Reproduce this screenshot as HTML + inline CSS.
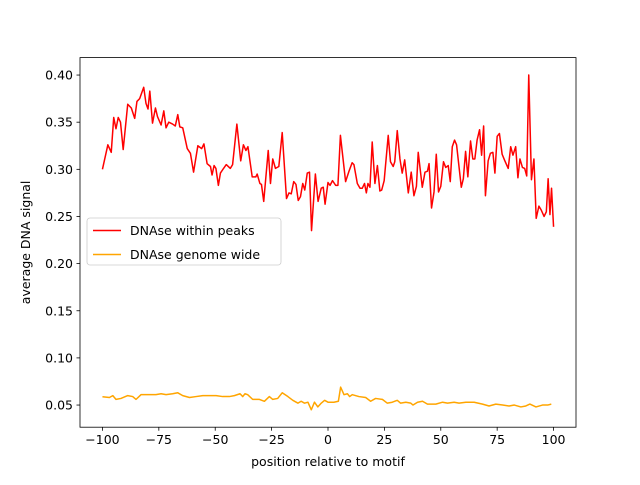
<!DOCTYPE html>
<html><head><meta charset="utf-8"><style>
body{margin:0;background:#fff}
svg text{font-family:"DejaVu Sans","Liberation Sans",sans-serif;font-size:12.5px;fill:#000}
</style></head><body>
<svg id="chart" width="640" height="480" xmlns="http://www.w3.org/2000/svg">
<rect width="640" height="480" fill="#fff"/>
<g id="plot"></g>
<rect x="80" y="57.6" width="496" height="369.6" fill="none" stroke="#000" stroke-width="0.8"/>
<g id="axes"></g>
<text x="328" y="466" text-anchor="middle">position relative to motif</text>
<text transform="translate(30,242.4) rotate(-90)" text-anchor="middle">average DNA signal</text>
<g>
<rect x="87" y="218" width="194" height="47" rx="3" fill="#fff" fill-opacity="0.8" stroke="#ccc" stroke-width="0.8"/>
<g><line x1="93" y1="230.5" x2="121" y2="230.5" stroke="#ff0000" stroke-width="1.5"/><text x="130" y="235">DNAse within peaks</text></g>
<g><line x1="93" y1="254.5" x2="121" y2="254.5" stroke="#ffa500" stroke-width="1.5"/><text x="130" y="259">DNAse genome wide</text></g>
</g>
</svg>
<script>
const redX=[-100,-97.6,-96.1,-95,-94,-93,-92,-90.8,-88.8,-87.2,-85.7,-84.7,-83.5,-81.7,-80.7,-79.8,-79,-77.8,-76.5,-75.6,-74,-72.8,-71.8,-70.6,-68.9,-67.7,-66.6,-65.7,-64.4,-62.4,-61,-59.6,-57.7,-56,-55,-53.6,-52.1,-51.4,-50.5,-49.7,-48.6,-47.7,-46.3,-45.1,-43.3,-42.3,-40.4,-38.7,-37.5,-36.4,-35.5,-33.6,-32,-31.4,-30.2,-29.5,-28.5,-26.5,-25.5,-24.5,-23.3,-21.8,-20.3,-18.4,-17.3,-16.3,-15.2,-14.2,-13.2,-12.2,-11.2,-10.3,-9.2,-8.2,-7.3,-5.6,-4.4,-3,-2.1,-1.3,0,0.9,2,3.4,4.4,5.5,7.8,9.3,10.7,11.5,13,14.2,15.2,16.2,17,17.7,18.6,19.6,20.8,21.9,23,23.8,24.9,26.7,27.7,28.9,29.6,30.7,31.9,32.9,34,35.6,36.9,38.1,39.2,40,41.8,43,44.1,44.8,45.9,47,48,49,50,51.2,52.2,53.3,54.2,55.1,56.1,57,59.1,60,61,62,63.2,64.2,65.1,66.1,67.2,68.1,69,69.8,71,72,73.1,74,75,76,77.2,78.4,79.9,81,82,83.2,84.2,85.1,86.2,87.2,88.1,89,90.2,91.3,92.3,93.5,94.5,95.8,96.8,97.6,98.4,99.1,100];
const redY=[0.300,0.326,0.318,0.355,0.343,0.355,0.350,0.321,0.369,0.365,0.354,0.372,0.375,0.387,0.370,0.364,0.383,0.349,0.365,0.356,0.347,0.362,0.344,0.350,0.348,0.346,0.358,0.345,0.344,0.322,0.317,0.297,0.325,0.322,0.327,0.306,0.303,0.294,0.304,0.301,0.283,0.296,0.301,0.305,0.301,0.305,0.348,0.309,0.326,0.320,0.324,0.292,0.292,0.295,0.285,0.284,0.266,0.320,0.285,0.311,0.301,0.303,0.339,0.269,0.275,0.274,0.287,0.284,0.267,0.271,0.285,0.278,0.296,0.297,0.235,0.295,0.266,0.280,0.281,0.263,0.286,0.283,0.288,0.283,0.283,0.336,0.287,0.298,0.307,0.305,0.285,0.280,0.280,0.285,0.275,0.285,0.281,0.329,0.285,0.304,0.277,0.278,0.288,0.336,0.308,0.303,0.308,0.341,0.311,0.296,0.310,0.275,0.297,0.272,0.282,0.318,0.281,0.297,0.298,0.306,0.259,0.276,0.316,0.276,0.282,0.308,0.302,0.304,0.287,0.324,0.331,0.326,0.281,0.290,0.319,0.292,0.330,0.311,0.311,0.331,0.342,0.315,0.346,0.272,0.309,0.317,0.318,0.296,0.335,0.338,0.316,0.309,0.301,0.324,0.315,0.324,0.291,0.311,0.302,0.301,0.293,0.400,0.289,0.311,0.248,0.261,0.257,0.250,0.255,0.290,0.252,0.280,0.239];
const orX=[-100,-96.9,-95.4,-94,-91.8,-88.8,-86.6,-85.1,-82.9,-79.2,-76.3,-74,-71.8,-68.9,-66.6,-64.4,-61.4,-58.5,-55.5,-51.8,-49.6,-46.7,-43.7,-41.5,-39,-37.8,-36.8,-35.6,-33.4,-30.4,-28.2,-26,-24.5,-22.3,-20.3,-17.8,-15.6,-13.3,-11.9,-10.4,-8.9,-7.4,-6,-4.5,-3,-1.5,0,2.6,4.6,5.6,7.1,8.6,9.6,10.8,13.7,16.7,18.9,21.1,24.1,26.3,28.5,30.7,32.2,34.5,36.7,37.7,39.7,41.9,44.1,47.8,50.8,53,55.9,58.1,61.1,64.8,68.5,71.4,74.4,77.4,80.3,82.6,85.5,87.7,89.5,92.2,95.1,97.4,99];
const orY=[0.0588,0.058,0.060,0.056,0.057,0.060,0.059,0.056,0.061,0.061,0.061,0.062,0.061,0.062,0.063,0.060,0.058,0.059,0.060,0.060,0.060,0.059,0.059,0.060,0.062,0.059,0.062,0.061,0.056,0.056,0.054,0.059,0.056,0.057,0.063,0.059,0.055,0.052,0.054,0.052,0.053,0.045,0.053,0.048,0.052,0.055,0.053,0.053,0.054,0.069,0.061,0.062,0.059,0.061,0.059,0.058,0.054,0.057,0.056,0.052,0.053,0.055,0.052,0.053,0.052,0.050,0.053,0.054,0.051,0.051,0.053,0.052,0.053,0.052,0.053,0.053,0.051,0.049,0.051,0.050,0.049,0.050,0.048,0.049,0.051,0.048,0.050,0.050,0.051];
const xTicks=[-100,-75,-50,-25,0,25,50,75,100];
const yTicks=[0.05,0.10,0.15,0.20,0.25,0.30,0.35,0.40];
const yTickLabels=["0.05","0.10","0.15","0.20","0.25","0.30","0.35","0.40"];

const NS="http://www.w3.org/2000/svg";
const L=80,R=576,T=57.6,B=427.2,X0=-109.95,X1=109.95,Y0=0.0265,Y1=0.4185;
function sx(v){return L+(v-X0)/(X1-X0)*(R-L);}
function sy(v){return B-(v-Y0)/(Y1-Y0)*(B-T);}
const plot=document.getElementById('plot'),axes=document.getElementById('axes');
function line(xs,ys,color,name){
  const p=document.createElementNS(NS,'polyline');
  p.setAttribute('points',xs.map((x,i)=>sx(x).toFixed(2)+','+sy(ys[i]).toFixed(2)).join(' '));
  p.setAttribute('fill','none');p.setAttribute('stroke',color);p.setAttribute('stroke-width','1.5');
  p.setAttribute('stroke-linejoin','round');
  
  
  plot.appendChild(p);
}
line(redX,redY,'#ff0000','series-dnase-within-peaks');
line(orX,orY,'#ffa500','series-dnase-genome-wide');
xTicks.forEach(v=>{
  const x=sx(v);
  const t=document.createElementNS(NS,'line');
  t.setAttribute('x1',x);t.setAttribute('x2',x);t.setAttribute('y1',B);t.setAttribute('y2',B+3.5);
  t.setAttribute('stroke','#000');t.setAttribute('stroke-width','0.8');
  
  
  axes.appendChild(t);
  const s=document.createElementNS(NS,'text');
  s.setAttribute('x',x);s.setAttribute('y',B+17);s.setAttribute('text-anchor','middle');
  s.textContent=(v<0?'\u2212'+(-v):String(v));
  
  
  axes.appendChild(s);
});
yTicks.forEach((v,i)=>{
  const y=sy(v);
  const t=document.createElementNS(NS,'line');
  t.setAttribute('x1',L-3.5);t.setAttribute('x2',L);t.setAttribute('y1',y);t.setAttribute('y2',y);
  t.setAttribute('stroke','#000');t.setAttribute('stroke-width','0.8');
  
  
  axes.appendChild(t);
  const s=document.createElementNS(NS,'text');
  s.setAttribute('x',L-7);s.setAttribute('y',y+4.5);s.setAttribute('text-anchor','end');
  s.textContent=yTickLabels[i];
  
  
  axes.appendChild(s);
});
</script>
</body></html>
